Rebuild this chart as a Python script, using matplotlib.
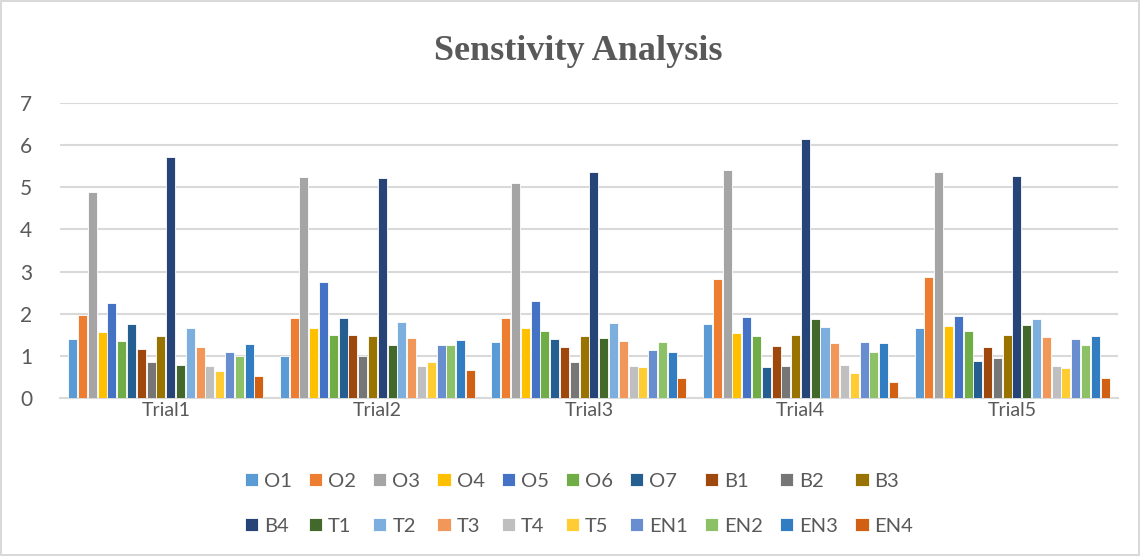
import numpy as np
import matplotlib
matplotlib.use("Agg")
import matplotlib.pyplot as plt

# trials on the x axis
trials = ["Trial1", "Trial2", "Trial3", "Trial4", "Trial5"]

# one series per factor (one per trial)
O1 = [1.41, 0.99, 1.34, 1.76, 1.65]
O2 = [1.97, 1.90, 1.90, 2.82, 2.87]
O3 = [4.90, 5.25, 5.10, 5.41, 5.36]
O4 = [1.56, 1.67, 1.65, 1.54, 1.71]
O5 = [2.25, 2.75, 2.31, 1.93, 1.95]
O6 = [1.35, 1.50, 1.60, 1.46, 1.60]
O7 = [1.75, 1.90, 1.41, 0.74, 0.87]
B1 = [1.16, 1.50, 1.21, 1.24, 1.21]
B2 = [0.85, 0.99, 0.85, 0.75, 0.96]
B3 = [1.48, 1.46, 1.48, 1.49, 1.50]
B4 = [5.71, 5.21, 5.37, 6.15, 5.26]
T1 = [0.78, 1.25, 1.42, 1.88, 1.74]
T2 = [1.65, 1.80, 1.77, 1.68, 1.88]
T3 = [1.22, 1.42, 1.36, 1.30, 1.45]
T4 = [0.77, 0.77, 0.77, 0.78, 0.77]
T5 = [0.63, 0.85, 0.74, 0.59, 0.70]
EN1 = [1.10, 1.26, 1.15, 1.33, 1.41]
EN2 = [1.00, 1.26, 1.34, 1.10, 1.26]
EN3 = [1.28, 1.38, 1.09, 1.30, 1.48]
EN4 = [0.52, 0.66, 0.47, 0.39, 0.47]

names = ["O1", "O2", "O3", "O4", "O5", "O6", "O7", "B1", "B2", "B3",
         "B4", "T1", "T2", "T3", "T4", "T5", "EN1", "EN2", "EN3", "EN4"]
series = [O1, O2, O3, O4, O5, O6, O7, B1, B2, B3,
          B4, T1, T2, T3, T4, T5, EN1, EN2, EN3, EN4]

# excel office palette
colors = ["#5B9BD5", "#ED7D31", "#A5A5A5", "#FFC000", "#4472C4", "#70AD47",
          "#255E91", "#9E480E", "#767676", "#997300", "#264478", "#43682B",
          "#7CAFDD", "#F1975A", "#BFBFBF", "#FFCD33", "#698ED0", "#8CC168",
          "#327DC2", "#D26012"]

txt = "#595959"
plt.rcParams['font.family'] = ['Lato', 'DejaVu Sans']

fig = plt.figure(figsize=(11.4, 5.56), dpi=100)
fig.patch.set_edgecolor("#D9D9D9")
fig.patch.set_linewidth(1.5)
ax = fig.add_axes([0.0526, 0.2842, 0.928, 0.5305])

x = np.arange(len(trials))
group = 0.926
step = group / len(series)
for i, (nm, vals, c) in enumerate(zip(names, series, colors)):
    off = -group / 2 + step * (i + 0.5)
    ax.bar(x + off, vals, width=step * 0.92, color=c, label=nm,
           edgecolor="white", linewidth=0.6, zorder=3)

ax.set_xlim(-0.5, len(trials) - 0.5)
ax.set_ylim(0, 7)
ax.set_yticks(range(0, 8))
ax.yaxis.grid(True, color="#D9D9D9", linewidth=1.5, zorder=0)
ax.set_axisbelow(True)
for s in ["top", "right", "left"]:
    ax.spines[s].set_visible(False)
ax.spines["bottom"].set_color("#D9D9D9")
ax.spines["bottom"].set_linewidth(1.5)
ax.tick_params(axis="both", length=0, colors=txt)
ax.tick_params(axis="y", labelsize=15, pad=20)
ax.tick_params(axis="x", labelsize=14, pad=3)
ax.set_xticks(x)
ax.set_xticklabels(trials)

fig.text(0.507, 0.907, "Senstivity Analysis", ha="center", va="center",
         fontsize=26, fontweight="bold", color=txt, family="Liberation Serif")

# legend fills column-wise, so interleave to get two rows of ten
h, l = ax.get_legend_handles_labels()
order = [j for i in range(10) for j in (i, i + 10)]
leg = fig.legend([h[j] for j in order], [l[j] for j in order],
                 loc="center", bbox_to_anchor=(0.508, 0.094), ncol=10,
                 frameon=False, fontsize=14.5, handlelength=0.65,
                 handleheight=0.65, handletextpad=0.3, columnspacing=0.85,
                 labelspacing=1.4)
for t in leg.get_texts():
    t.set_color(txt)

fig.savefig("out.png", dpi=100)
